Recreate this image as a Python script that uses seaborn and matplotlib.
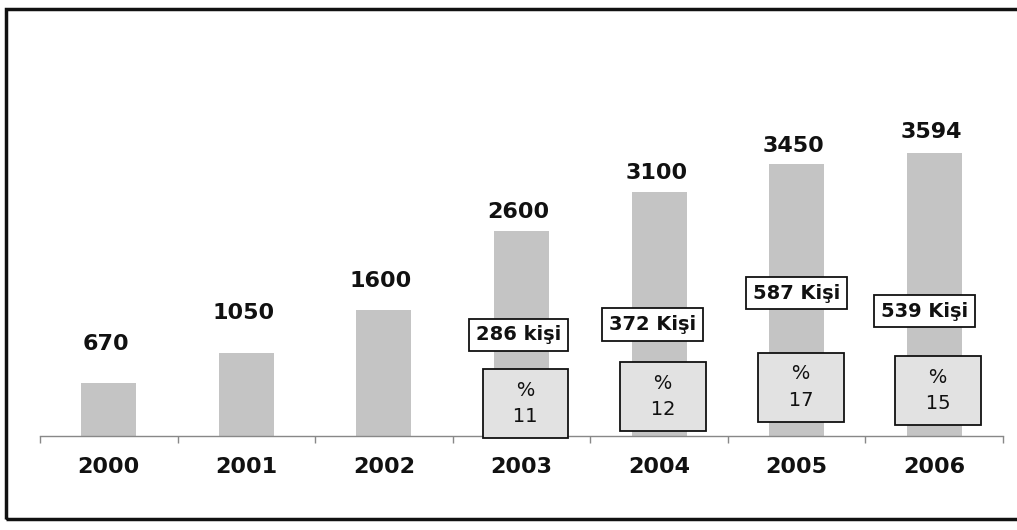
import matplotlib
matplotlib.use("Agg")
import matplotlib.pyplot as plt
import seaborn as sns
import pandas as pd
import numpy as np
from matplotlib.patches import Rectangle

years = ["2000", "2001", "2002", "2003", "2004", "2005", "2006"]
values = [670, 1050, 1600, 2600, 3100, 3450, 3594]
people_labels = ["286 kişi", "372 Kişi", "587 Kişi", "539 Kişi"]
people_years = ["2003", "2004", "2005", "2006"]
percents = [11, 12, 17, 15]

# annotation placement (style): label gaps in points, box centres in data units
label_gap = [21, 22, 14, 7, 6.5, 6, 8]
people_box_y = [1283, 1416, 1816, 1587]
people_box_dx = [-0.02, -0.05, 0.0, -0.07]
pct_box_y = [410, 500, 620, 580]

sns.set_theme(style="white")
plt.rcParams["font.family"] = ["DejaVu Sans"]

fig = plt.figure(figsize=(10.17, 5.30), dpi=100)
ax = fig.add_axes([0.0393, 0.1774, 0.9469, 0.7471])

df = pd.DataFrame({"year": years, "value": values})
sns.barplot(data=df, x="year", y="value", order=years, color="#c4c4c4",
            saturation=1, width=0.4, ax=ax, edgecolor="none")

ax.set_xlim(-0.5, len(years) - 0.5)
ax.set_ylim(0, 5030)
ax.set_xlabel("")
ax.set_ylabel("")
ax.set_yticks([])

for s in ["top", "right", "left"]:
    ax.spines[s].set_visible(False)
ax.spines["bottom"].set_color("#888888")
ax.spines["bottom"].set_linewidth(1.0)

# ticks at category boundaries, labels at centres
ax.set_xticks(np.arange(-0.5, len(years) + 0.5, 1.0))
ax.set_xticklabels([])
ax.tick_params(axis="x", which="major", direction="out", length=5,
               color="#888888", width=1, bottom=True)
ax.set_xticks(np.arange(len(years)), minor=True)
ax.set_xticklabels(years, minor=True, fontsize=16, fontweight="bold",
                   color="#111111")
ax.tick_params(axis="x", which="minor", length=0, pad=15)

# value labels
for i, (v, g) in enumerate(zip(values, label_gap)):
    ax.annotate(str(v), (i, v), xytext=(-2, g), textcoords="offset points",
                ha="center", va="bottom", fontsize=16, fontweight="bold",
                color="#111111")

# people count boxes
for yr, lab, yb, dx in zip(people_years, people_labels, people_box_y, people_box_dx):
    i = years.index(yr)
    ax.text(i + dx, yb, lab, ha="center", va="center", fontsize=14,
            fontweight="bold", color="#111111",
            bbox=dict(boxstyle="square,pad=0.35", facecolor="white",
                      edgecolor="#111111", linewidth=1.3), zorder=5)

# percentage boxes
for yr, p, yb in zip(people_years, percents, pct_box_y):
    i = years.index(yr)
    ax.text(i + 0.03, yb, f"   %   \n   {p}   ", ha="center", va="center",
            fontsize=14, color="#111111", linespacing=1.5,
            multialignment="center",
            bbox=dict(boxstyle="square,pad=0.6", facecolor="#e2e2e2",
                      edgecolor="#111111", linewidth=1.3), zorder=5)

# outer frame
fig.patches.append(Rectangle((0.006, 0.021), 1.1, 0.962,
                             transform=fig.transFigure, fill=False,
                             edgecolor="#111111", linewidth=2.5))

fig.savefig("out.png", dpi=100)
